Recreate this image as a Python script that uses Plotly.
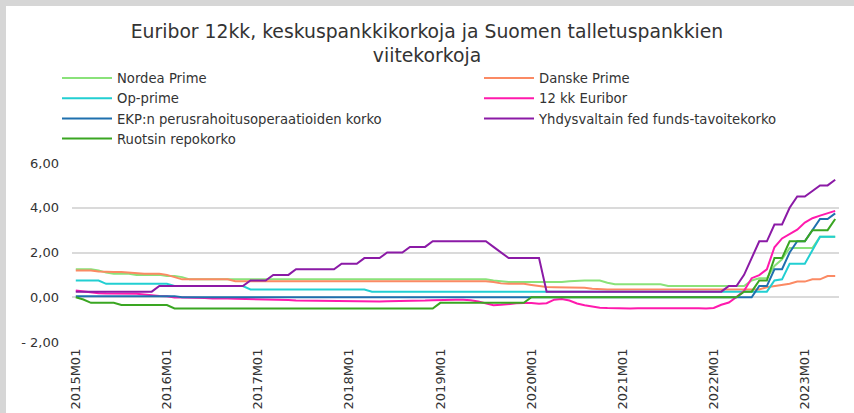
import plotly.graph_objects as go

# ---------------- data ----------------
years = [2015, 2016, 2017, 2018, 2019, 2020, 2021, 2022, 2023]
months = [f"{y}M{m:02d}" for y in years for m in range(1, 13)][:101]
tick_labels = ["2015M01", "2016M01", "2017M01", "2018M01", "2019M01",
               "2020M01", "2021M01", "2022M01", "2023M01"]
y_ticks = [-2, 0, 2, 4, 6]
y_tick_text = ["- 2,00", "0,00", "2,00", "4,00", "6,00"]

nordea_prime = [
    1.25, 1.25, 1.25, 1.20, 1.10, 1.05, 1.05, 1.05, 1.00, 1.00, 1.00, 1.00,
    0.95, 0.95, 0.90, 0.80, 0.80, 0.80, 0.80, 0.80, 0.80, 0.80, 0.80, 0.80,
    0.80, 0.80, 0.80, 0.80, 0.80, 0.80, 0.80, 0.80, 0.80, 0.80, 0.80, 0.80,
    0.80, 0.80, 0.80, 0.80, 0.80, 0.80, 0.80, 0.80, 0.80, 0.80, 0.80, 0.80,
    0.80, 0.80, 0.80, 0.80, 0.80, 0.80, 0.80, 0.75, 0.70, 0.68, 0.68, 0.68,
    0.68, 0.68, 0.68, 0.68, 0.68, 0.72, 0.75, 0.75, 0.75, 0.75, 0.65, 0.58,
    0.58, 0.58, 0.58, 0.58, 0.58, 0.58, 0.50, 0.50, 0.50, 0.50, 0.50, 0.50,
    0.50, 0.50, 0.50, 0.50, 0.50, 0.75, 0.85, 0.85, 1.40, 1.70, 2.20, 2.20,
    2.20, 2.20, 2.70, 2.70, 2.70,
]
danske_prime = [
    1.20, 1.20, 1.20, 1.15, 1.13, 1.13, 1.13, 1.10, 1.05, 1.05, 1.05, 1.05,
    1.00, 0.90, 0.80, 0.80, 0.80, 0.80, 0.80, 0.80, 0.80, 0.72, 0.72, 0.72,
    0.72, 0.72, 0.72, 0.72, 0.72, 0.72, 0.72, 0.72, 0.72, 0.72, 0.72, 0.72,
    0.72, 0.72, 0.72, 0.72, 0.72, 0.72, 0.72, 0.72, 0.72, 0.72, 0.72, 0.72,
    0.72, 0.72, 0.72, 0.72, 0.72, 0.72, 0.72, 0.68, 0.62, 0.60, 0.60, 0.60,
    0.55, 0.50, 0.46, 0.45, 0.45, 0.45, 0.45, 0.42, 0.38, 0.35, 0.35, 0.35,
    0.35, 0.35, 0.35, 0.35, 0.35, 0.35, 0.35, 0.35, 0.35, 0.35, 0.35, 0.35,
    0.35, 0.35, 0.35, 0.35, 0.35, 0.35, 0.35, 0.45, 0.50, 0.55, 0.60, 0.70,
    0.70, 0.80, 0.80, 0.95, 0.95,
]
op_prime = [
    0.75, 0.75, 0.75, 0.75, 0.60, 0.60, 0.60, 0.60, 0.60, 0.60, 0.60, 0.60,
    0.60, 0.50, 0.50, 0.50, 0.50, 0.50, 0.50, 0.50, 0.50, 0.50, 0.50, 0.35,
    0.35, 0.35, 0.35, 0.35, 0.35, 0.35, 0.35, 0.35, 0.35, 0.35, 0.35, 0.35,
    0.35, 0.35, 0.35, 0.25, 0.25, 0.25, 0.25, 0.25, 0.25, 0.25, 0.25, 0.25,
    0.25, 0.25, 0.25, 0.25, 0.25, 0.25, 0.25, 0.25, 0.25, 0.25, 0.25, 0.25,
    0.25, 0.25, 0.25, 0.25, 0.25, 0.25, 0.25, 0.25, 0.25, 0.25, 0.25, 0.25,
    0.25, 0.25, 0.25, 0.25, 0.25, 0.25, 0.25, 0.25, 0.25, 0.25, 0.25, 0.25,
    0.25, 0.25, 0.25, 0.25, 0.25, 0.25, 0.25, 0.25, 0.75, 0.80, 1.50, 1.50,
    1.50, 2.10, 2.70, 2.70, 2.70,
]
euribor_12m = [
    0.298, 0.255, 0.212, 0.180, 0.165, 0.163, 0.167, 0.161, 0.154, 0.128, 0.079, 0.059,
    0.042, -0.008, -0.012, -0.010, -0.013, -0.028, -0.056, -0.048, -0.057, -0.069, -0.074, -0.080,
    -0.095, -0.106, -0.110, -0.119, -0.126, -0.149, -0.154, -0.156, -0.168, -0.180, -0.189, -0.190,
    -0.189, -0.191, -0.191, -0.190, -0.188, -0.181, -0.180, -0.169, -0.166, -0.154, -0.147, -0.129,
    -0.116, -0.108, -0.109, -0.112, -0.134, -0.190, -0.283, -0.356, -0.339, -0.300, -0.271, -0.261,
    -0.253, -0.288, -0.266, -0.108, -0.081, -0.147, -0.279, -0.359, -0.415, -0.466, -0.481, -0.497,
    -0.505, -0.501, -0.487, -0.484, -0.481, -0.484, -0.491, -0.498, -0.492, -0.477, -0.487, -0.502,
    -0.477, -0.335, -0.237, 0.013, 0.287, 0.852, 0.992, 1.249, 2.233, 2.629, 2.828, 3.018,
    3.337, 3.534, 3.647, 3.757, 3.862,
]
ecb_mro = [
    0.05, 0.05, 0.05, 0.05, 0.05, 0.05, 0.05, 0.05, 0.05, 0.05, 0.05, 0.05,
    0.05, 0.05, 0.00, 0.00, 0.00, 0.00, 0.00, 0.00, 0.00, 0.00, 0.00, 0.00,
    0.00, 0.00, 0.00, 0.00, 0.00, 0.00, 0.00, 0.00, 0.00, 0.00, 0.00, 0.00,
    0.00, 0.00, 0.00, 0.00, 0.00, 0.00, 0.00, 0.00, 0.00, 0.00, 0.00, 0.00,
    0.00, 0.00, 0.00, 0.00, 0.00, 0.00, 0.00, 0.00, 0.00, 0.00, 0.00, 0.00,
    0.00, 0.00, 0.00, 0.00, 0.00, 0.00, 0.00, 0.00, 0.00, 0.00, 0.00, 0.00,
    0.00, 0.00, 0.00, 0.00, 0.00, 0.00, 0.00, 0.00, 0.00, 0.00, 0.00, 0.00,
    0.00, 0.00, 0.00, 0.00, 0.00, 0.00, 0.50, 0.50, 1.25, 1.25, 2.00, 2.50,
    2.50, 3.00, 3.50, 3.50, 3.75,
]
fed_funds = [
    0.25, 0.25, 0.25, 0.25, 0.25, 0.25, 0.25, 0.25, 0.25, 0.25, 0.25, 0.50,
    0.50, 0.50, 0.50, 0.50, 0.50, 0.50, 0.50, 0.50, 0.50, 0.50, 0.50, 0.75,
    0.75, 0.75, 1.00, 1.00, 1.00, 1.25, 1.25, 1.25, 1.25, 1.25, 1.25, 1.50,
    1.50, 1.50, 1.75, 1.75, 1.75, 2.00, 2.00, 2.00, 2.25, 2.25, 2.25, 2.50,
    2.50, 2.50, 2.50, 2.50, 2.50, 2.50, 2.50, 2.25, 2.00, 1.75, 1.75, 1.75,
    1.75, 1.75, 0.25, 0.25, 0.25, 0.25, 0.25, 0.25, 0.25, 0.25, 0.25, 0.25,
    0.25, 0.25, 0.25, 0.25, 0.25, 0.25, 0.25, 0.25, 0.25, 0.25, 0.25, 0.25,
    0.25, 0.25, 0.50, 0.50, 1.00, 1.75, 2.50, 2.50, 3.25, 3.25, 4.00, 4.50,
    4.50, 4.75, 5.00, 5.00, 5.25,
]
riksbank_repo = [
    0.00, -0.10, -0.25, -0.25, -0.25, -0.25, -0.35, -0.35, -0.35, -0.35, -0.35, -0.35,
    -0.35, -0.50, -0.50, -0.50, -0.50, -0.50, -0.50, -0.50, -0.50, -0.50, -0.50, -0.50,
    -0.50, -0.50, -0.50, -0.50, -0.50, -0.50, -0.50, -0.50, -0.50, -0.50, -0.50, -0.50,
    -0.50, -0.50, -0.50, -0.50, -0.50, -0.50, -0.50, -0.50, -0.50, -0.50, -0.50, -0.50,
    -0.25, -0.25, -0.25, -0.25, -0.25, -0.25, -0.25, -0.25, -0.25, -0.25, -0.25, -0.25,
    0.00, 0.00, 0.00, 0.00, 0.00, 0.00, 0.00, 0.00, 0.00, 0.00, 0.00, 0.00,
    0.00, 0.00, 0.00, 0.00, 0.00, 0.00, 0.00, 0.00, 0.00, 0.00, 0.00, 0.00,
    0.00, 0.00, 0.00, 0.00, 0.25, 0.25, 0.75, 0.75, 1.75, 1.75, 2.50, 2.50,
    2.50, 3.00, 3.00, 3.00, 3.50,
]

series = [
    ("Nordea Prime", nordea_prime, "#8ae27a", "legend"),
    ("Danske Prime", danske_prime, "#fb8a64", "legend2"),
    ("Op-prime", op_prime, "#22cfd2", "legend"),
    ("12 kk Euribor", euribor_12m, "#ff1aad", "legend2"),
    ("EKP:n perusrahoitusoperaatioiden korko", ecb_mro, "#1f70ae", "legend"),
    ("Yhdysvaltain fed funds-tavoitekorko", fed_funds, "#8b1aa6", "legend2"),
    ("Ruotsin repokorko", riksbank_repo, "#3aa622", "legend"),
]

# ---------------- layout constants ----------------
W, H = 854, 413
ML, MR, MT, MB = 72, 15, 163, 71
PW, PH = W - ML - MR, H - MT - MB
FONT = "DejaVu Sans"
TXT = "#333333"


def px_to_paper_x(px):
    return (px - ML) / PW


def px_to_paper_y(py):
    return (H - MB - py) / PH


fig = go.Figure()
for name, vals, color, leg in series:
    fig.add_trace(go.Scatter(
        x=months, y=vals, name=name, mode="lines",
        line=dict(color=color, width=2), legend=leg,
    ))

legend_common = dict(
    xanchor="left", yanchor="top", orientation="v", itemwidth=50,
    bgcolor="rgba(0,0,0,0)", borderwidth=0,
    font=dict(family=FONT, size=13.2, color=TXT), traceorder="normal",
)

fig.update_layout(
    template="none",
    width=W, height=H,
    margin=dict(l=ML, r=MR, t=MT, b=MB, autoexpand=False),
    paper_bgcolor="#d6d6d6",
    plot_bgcolor="white",
    font=dict(family=FONT, size=13, color=TXT),
    title=dict(
        text="Euribor 12kk, keskuspankkikorkoja ja Suomen talletuspankkien<br>viitekorkoja",
        x=0.5, xref="container", xanchor="center",
        y=1 - 38 / H, yref="container", yanchor="top",
        font=dict(family=FONT, size=18.8, color=TXT),
    ),
    legend=dict(x=px_to_paper_x(57), y=px_to_paper_y(63), **legend_common),
    legend2=dict(x=px_to_paper_x(479), y=px_to_paper_y(63), **legend_common),
    xaxis=dict(
        type="category", range=[-0.5, len(months) - 0.5],
        tickmode="array", tickvals=tick_labels, ticktext=tick_labels,
        tickangle=-90, showgrid=False, showline=False, zeroline=False,
        ticks="", ticklabelstandoff=3,
        tickfont=dict(family=FONT, size=13, color=TXT),
        automargin=False,
    ),
    yaxis=dict(
        range=[-2, 6], tickmode="array", tickvals=y_ticks, ticktext=y_tick_text,
        showgrid=True, gridcolor="#dadada", gridwidth=2, zeroline=False,
        showline=False, ticks="", ticklabelstandoff=12,
        tickfont=dict(family=FONT, size=13, color=TXT), automargin=False,
    ),
    showlegend=True,
    shapes=[dict(
        type="rect", xref="paper", yref="paper", layer="below",
        x0=px_to_paper_x(6), x1=px_to_paper_x(W + 10),
        y0=px_to_paper_y(H + 10), y1=px_to_paper_y(6),
        fillcolor="white", line=dict(width=0),
    )],
)

fig.write_html(
    "out.html",
    config={"displayModeBar": False},
    post_script="document.body.style.margin='0';document.body.style.overflow='hidden';",
)
